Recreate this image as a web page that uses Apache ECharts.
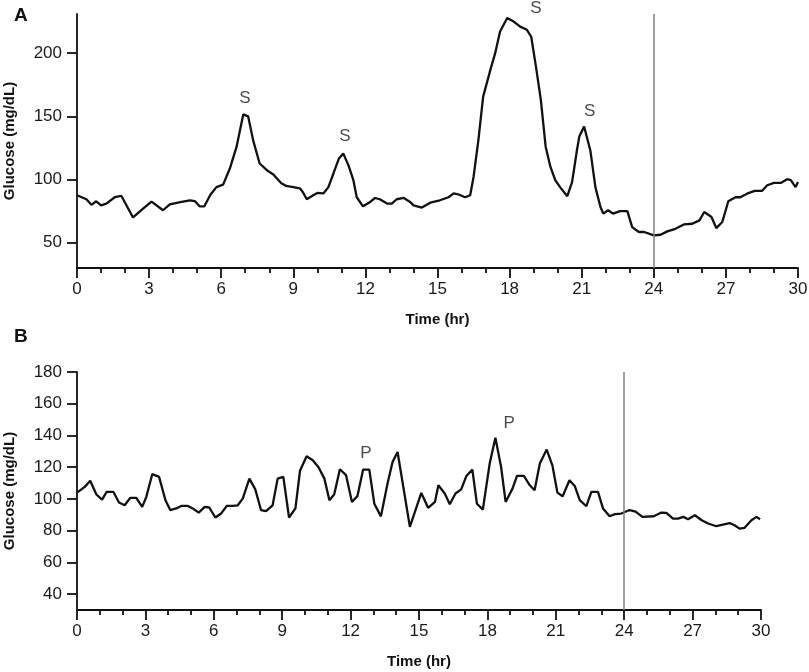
<!DOCTYPE html>
<html>
<head>
<meta charset="utf-8">
<script src="https://cdn.jsdelivr.net/npm/echarts@6/dist/echarts.min.js"></script>
<style>
  html, body { margin: 0; padding: 0; background: #fff; }
  #chart { width: 809px; height: 672px; }
</style>
</head>
<body>
<div id="chart"></div>
<script type="text/javascript">
// panel A - sensor glucose, hours
var aTime = [0,0.39,0.6,0.8,1.0,1.22,1.57,1.85,2.33,2.75,
  3.1,3.58,3.86,4.35,4.7,4.9,5.1,5.3,5.55,5.8,
  6.08,6.36,6.64,6.92,7.12,7.33,7.6,7.9,8.17,8.5,
  8.7,9.0,9.28,9.4,9.56,9.83,10.0,10.25,10.46,10.67,
  10.9,11.08,11.3,11.5,11.64,11.9,12.2,12.4,12.6,12.9,
  13.1,13.3,13.6,13.86,14.0,14.35,14.7,15.1,15.46,15.67,
  15.9,16.15,16.36,16.5,16.7,16.9,17.2,17.4,17.6,17.9,
  18.17,18.44,18.72,18.9,19.1,19.3,19.5,19.7,19.9,20.1,
  20.4,20.6,20.8,20.9,21.1,21.36,21.57,21.78,21.9,22.1,
  22.3,22.6,22.9,23.1,23.38,23.6,24.0,24.28,24.56,24.9,
  25.25,25.6,25.9,26.1,26.4,26.6,26.85,27.1,27.4,27.6,
  27.9,28.2,28.5,28.72,29.0,29.3,29.55,29.7,29.9,30.0];
var aGlucose = [87.6,84.4,80,82.8,79.6,81,86,87,70,77,
  82.5,75.7,80.4,82.3,83.6,83,78.8,78.8,88,94,
  96,108.7,126,151.6,150,131,112.7,107.4,104,97,
  95,94,93,90,84.4,87.6,89.4,89,94,104.8,
  116.7,120.6,111,99.5,86,78.8,82.3,85.4,84.4,81,
  81,84.4,85.4,82.3,79.6,77.8,81.7,83.6,86,89,
  88,86,87.6,102,131,165.6,186.8,200,217,227.8,
  225,221,218.5,213,189,163,126,110,99.5,94,
  86.8,98,123,134,142,123,94,78.3,73,75.7,
  73,75,75,62.4,58.5,58.5,55.8,56.3,59,61,
  64.5,65,67.7,74.3,70.4,61.6,66.4,82.8,86,86,
  89,91,91,95.5,97.4,97.4,100.3,99.5,94,98];

// panel B
var bTime = [0,0.34,0.58,0.85,1.1,1.3,1.6,1.84,2.09,2.34,
  2.6,2.86,3.04,3.3,3.6,3.88,4.09,4.35,4.57,4.86,
  5.08,5.34,5.6,5.8,6.07,6.32,6.57,6.83,7.05,7.27,
  7.56,7.82,8.07,8.29,8.58,8.8,9.05,9.3,9.58,9.78,
  10.07,10.34,10.6,10.85,11.07,11.28,11.53,11.8,12.06,12.3,
  12.55,12.82,13.04,13.33,13.62,13.84,14.06,14.6,15.1,15.4,
  15.7,15.85,16.13,16.35,16.6,16.85,17.08,17.34,17.54,17.8,
  18.1,18.35,18.6,18.8,19.1,19.3,19.6,19.86,20.07,20.3,
  20.6,20.85,21.07,21.3,21.6,21.83,22.05,22.34,22.56,22.85,
  23.07,23.36,23.6,23.87,24.24,24.5,24.8,25.3,25.63,25.85,
  26.14,26.36,26.6,26.8,27.1,27.4,27.68,28.04,28.33,28.62,
  28.84,29.06,29.28,29.58,29.8,29.96];
var bGlucose = [104,107.6,111.4,102.8,99.6,104.4,104.4,97.7,96,100.7,
  100.7,95,101.3,115.6,113.9,99.2,93,94,95.6,95.6,
  94,91.4,95,94.6,88.3,90.8,95.6,95.6,96,100.2,
  112.8,106,93,92.3,96,112.8,113.9,88.3,94,117.7,
  126.9,124.4,119.8,112.8,99.2,102.8,118.7,115,98.1,101.9,
  118.5,118.5,97,89,109.7,123.3,129.6,82.4,103.8,94.4,
  98.1,108.6,103.4,96.7,103.4,106,114.5,118.5,97,93.3,
  122.3,138.6,120.2,98.1,106.5,114.5,114.5,108.6,105.5,122.3,
  131.1,121.2,104,101.7,111.8,108.2,99.2,95.4,104.4,104.4,
  94,89.1,90.4,90.8,93,92,88.7,89.1,91.4,91.2,
  87.6,87.6,88.7,87.2,89.7,86.6,84.5,82.8,83.8,84.8,
  83.4,81.3,81.8,86.6,88.7,87.2];

// annotations
var aNotes = [[6.99,164.5],[11.15,134.3],[19.1,235.7],[21.33,153.6]];
var bNotes = [[12.67,129],[18.96,147.9]];

var aTicks = [50,100,150,200];
var bTicks = [40,60,80,100,120,140,160,180];
var marker = 24;

var FONT = "'Liberation Sans', Arial, sans-serif";

function zip(t, v){
  var out = [];
  for(var i=0; i<t.length; i++){
    out.push([t[i], v[i]]);
  }
  return out;
}

function xAxisCfg(idx){
  return {
    type:'value', gridIndex: idx, min:0, max:30, interval:3,
    name:'Time (hr)', nameLocation:'middle', nameGap:44,
    nameTextStyle:{ fontFamily:FONT, fontSize:15, fontWeight:'bold', color:'#111', verticalAlign:'top' },
    axisLine:{ show:true, onZero:false, lineStyle:{ color:'#111', width:1.8 } },
    axisTick:{ show:true, inside:false, length:10, lineStyle:{ color:'#111', width:1.8 } },
    minorTick:{ show:true, splitNumber:3, length:5, lineStyle:{ color:'#111', width:1.8 } },
    axisLabel:{ fontFamily:FONT, fontSize:17, color:'#1a1a1a', margin:13 },
    splitLine:{ show:false }
  };
}

function yAxisCfg(idx, mn, mx, ticks){
  return {
    type:'value', gridIndex: idx, min:mn, max:mx,
    name:'Glucose (mg/dL)', nameLocation:'middle', nameGap:60,
    nameTextStyle:{ fontFamily:FONT, fontSize:15, fontWeight:'bold', color:'#111' },
    axisLine:{ show:true, lineStyle:{ color:'#111', width:1.8 } },
    axisTick:{ show:true, inside:false, length:10, customValues:ticks, lineStyle:{ color:'#111', width:1.8 } },
    axisLabel:{ fontFamily:FONT, fontSize:17, color:'#1a1a1a', margin:15, customValues:ticks },
    splitLine:{ show:false }
  };
}

function noteSeries(idx, pts, txt){
  return {
    type:'scatter', xAxisIndex:idx, yAxisIndex:idx, data:pts, symbolSize:1,
    itemStyle:{ color:'rgba(0,0,0,0)' }, clip:false, silent:true,
    label:{ show:true, position:'inside', formatter:txt, fontFamily:FONT, fontSize:17, color:'#1a1a1a' }
  };
}

function lineSeries(idx, t, v){
  return {
    type:'line', xAxisIndex:idx, yAxisIndex:idx, data:zip(t, v),
    showSymbol:false, silent:true,
    lineStyle:{ color:'#111', width:2.3 },
    markLine:{
      symbol:'none', silent:true, label:{ show:false },
      lineStyle:{ color:'#808080', width:1.5, type:'solid' },
      data:[{ xAxis: marker }]
    }
  };
}

var myChart = echarts.init(document.getElementById('chart'));
var option = {
  backgroundColor:'#fff',
  animation:false,
  title:[
    { text:'A', left:9, top:1, textStyle:{ fontFamily:FONT, fontSize:19, fontWeight:'bold', color:'#111' } },
    { text:'B', left:9, top:322, textStyle:{ fontFamily:FONT, fontSize:19, fontWeight:'bold', color:'#111' } }
  ],
  grid:[
    { left:77, right:11, top:14, height:254, outerBoundsMode:'none' },
    { left:77, right:48, top:372, height:238, outerBoundsMode:'none' }
  ],
  xAxis:[ xAxisCfg(0), xAxisCfg(1) ],
  yAxis:[ yAxisCfg(0, 30, 231, aTicks), yAxisCfg(1, 30, 180, bTicks) ],
  series:[
    lineSeries(0, aTime, aGlucose),
    lineSeries(1, bTime, bGlucose),
    noteSeries(0, aNotes, 'S'),
    noteSeries(1, bNotes, 'P')
  ]
};
myChart.setOption(option);
</script>
</body>
</html>
